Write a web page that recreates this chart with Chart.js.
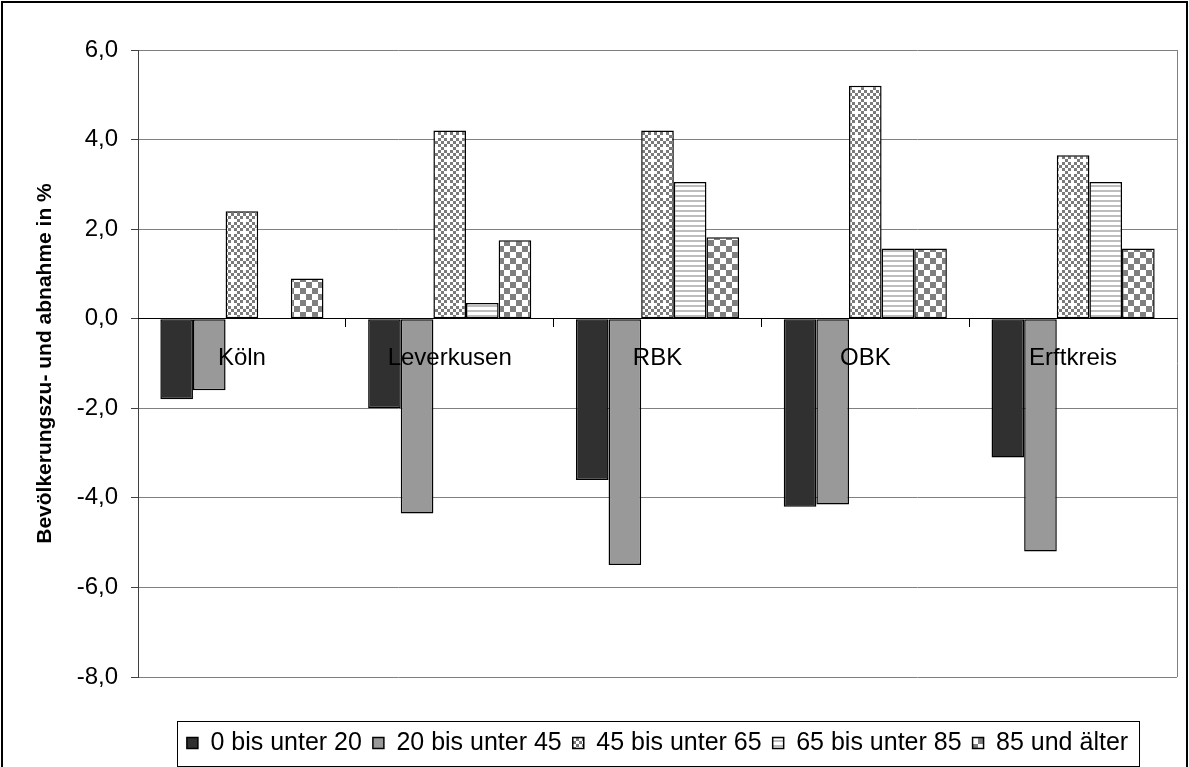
<!DOCTYPE html>
<html>
<head>
<meta charset="utf-8">
<script src="https://cdn.jsdelivr.net/npm/chart.js@4.4.0/dist/chart.umd.min.js"></script>
<style>
  html, body { margin: 0; padding: 0; background: #fff; overflow: hidden; }
  #wrap { position: relative; width: 1189px; height: 767px; }
  #rahmen { position: absolute; left: 1px; top: 1px; width: 1183px; height: 800px; border: 2px solid #000; pointer-events: none; }
  canvas { position: absolute; left: 0; top: 0; }
</style>
</head>
<body>
<div id="wrap">
  <canvas id="diagramm" width="1189" height="767"></canvas>
  <div id="rahmen"></div>
</div>
<script>
// Daten
const kategorien = ["Köln", "Leverkusen", "RBK", "OBK", "Erftkreis"];
const altersgruppen = ["0 bis unter 20", "20 bis unter 45", "45 bis unter 65", "65 bis unter 85", "85 und älter"];
const unter20 = [-1.8, -2.0, -3.6, -4.2, -3.1];
const unter45 = [-1.6, -4.35, -5.5, -4.15, -5.2];
const unter65 = [2.4, 4.2, 4.2, 5.2, 3.65];
const unter85 = [0, 0.35, 3.05, 1.57, 3.05];
const ab85 = [0.9, 1.75, 1.82, 1.57, 1.57];

const schrift = "'Liberation Sans', Arial, sans-serif";

// Füllmuster wie im Excel-Original
function muster(w, h, zeichne) {
  const c = document.createElement("canvas");
  c.width = w; c.height = h;
  const g = c.getContext("2d");
  g.fillStyle = "#fff";
  g.fillRect(0, 0, w, h);
  zeichne(g);
  return g.createPattern(c, "repeat");
}

// feines Schachbrett mit hellen Punkten
const feinKaro = muster(12, 12, g => {
  g.fillStyle = "#7a7a7a";
  for (let i = 0; i < 4; i++) {
    for (let j = 0; j < 4; j++) {
      if ((i + j) % 2 === 0 && !(i === 1 && j === 1)) g.fillRect(i * 3, j * 3, 3, 3);
    }
  }
});
// waagerechte Streifen
const streifen = muster(4, 5, g => {
  g.fillStyle = "#bdbdbd";
  g.fillRect(0, 0, 4, 2);
});
// grobes Schachbrett
const grobKaro = muster(12, 12, g => {
  g.fillStyle = "#7f7f7f";
  g.fillRect(0, 0, 6, 6);
  g.fillRect(6, 6, 6, 6);
});

const fuellungen = ["#303030", "#999999", feinKaro, streifen, grobKaro];
const reihen = [unter20, unter45, unter65, unter85, ab85];

// Rahmen rechts am Diagrammbereich und Kasten um die Legende
const rahmenPlugin = {
  id: "rahmen",
  beforeDatasetsDraw(chart) {
    const a = chart.chartArea;
    const ctx = chart.ctx;
    ctx.save();
    ctx.strokeStyle = "#808080";
    ctx.lineWidth = 1;
    ctx.beginPath();
    ctx.moveTo(Math.round(a.right) + 0.5, a.top);
    ctx.lineTo(Math.round(a.right) + 0.5, a.bottom);
    ctx.stroke();
    ctx.restore();
  },
  afterDraw(chart) {
    const boxen = chart.legend.legendHitBoxes;
    if (!boxen || !boxen.length) return;
    let links = Infinity, rechts = -Infinity, oben = Infinity, unten = -Infinity;
    boxen.forEach(b => {
      links = Math.min(links, b.left);
      rechts = Math.max(rechts, b.left + b.width);
      oben = Math.min(oben, b.top);
      unten = Math.max(unten, b.top + b.height);
    });
    const ctx = chart.ctx;
    ctx.save();
    ctx.strokeStyle = "#000";
    ctx.lineWidth = 1;
    ctx.strokeRect(Math.round(links - 10) + 0.5, Math.round(oben - 10) + 0.5,
      Math.round(rechts - links + 21), Math.round(unten - oben + 20));
    ctx.restore();
  }
};

new Chart(document.getElementById("diagramm"), {
  type: "bar",
  data: {
    labels: kategorien,
    datasets: altersgruppen.map((name, i) => ({
      label: name,
      data: reihen[i],
      backgroundColor: fuellungen[i],
      borderColor: "#000",
      borderWidth: 1.5,
      borderSkipped: false,
      categoryPercentage: 0.785,
      barPercentage: 1
    }))
  },
  options: {
    responsive: false,
    animation: false,
    layout: { padding: { left: 20, right: 12, top: 50, bottom: 1.5 } },
    scales: {
      x: {
        axis: "x",
        position: { y: 0 },
        offset: true,
        grid: { offset: true, drawOnChartArea: false, drawTicks: true, tickLength: 8, color: "#000" },
        border: { display: true, color: "#000", width: 1, z: 1 },
        ticks: { z: 1, color: "#000", font: { size: 24, family: schrift }, padding: 17, maxRotation: 0, autoSkip: false }
      },
      y: {
        min: -8,
        max: 6,
        ticks: {
          stepSize: 2,
          color: "#000",
          font: { size: 24, family: schrift },
          padding: 13,
          callback: v => v.toFixed(1).replace(".", ",")
        },
        grid: {
          color: c => (c.tick && c.tick.value === 0 ? "#000" : "#808080"),
          tickLength: 7,
          tickColor: "#404040"
        },
        border: { color: "#404040" },
        title: {
          display: true,
          text: "Bevölkerungszu- und abnahme in %",
          color: "#000",
          font: { size: 21, weight: "bold", family: schrift },
          padding: { top: 13, bottom: 0 }
        },
        afterFit(scale) { scale.width = 118; }
      }
    },
    plugins: {
      legend: {
        position: "bottom",
        fullSize: false,
        title: { display: true, text: " ", font: { size: 10 }, padding: { top: 0, bottom: 30.5 } },
        labels: {
          boxWidth: 11,
          boxHeight: 11,
          padding: 11,
          color: "#000",
          font: { size: 25, family: schrift }
        }
      },
      tooltip: { enabled: false }
    }
  },
  plugins: [rahmenPlugin]
});
</script>
</body>
</html>
